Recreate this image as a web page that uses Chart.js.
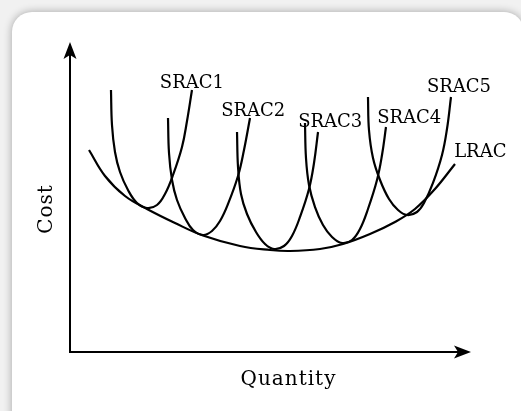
<!DOCTYPE html>
<html>
<head>
<meta charset="utf-8">
<script src="https://cdn.jsdelivr.net/npm/chart.js@4/dist/chart.umd.min.js"></script>
<style>
  html, body { margin: 0; padding: 0; }
  body { width: 521px; height: 411px; overflow: hidden; background: #f1f1f1; position: relative; }
  .card {
    position: absolute; left: 12px; top: 12px; width: 512px; height: 430px;
    background: #fff; border-radius: 20px;
    box-shadow: 0 0 9px rgba(0, 0, 0, 0.32);
  }
  #costChart { position: absolute; left: 0; top: 0; }
</style>
</head>
<body>
<div class="card"></div>
<canvas id="costChart" width="521" height="411"></canvas>
<script>
// Long run average cost and the short run curves it envelopes
const lracQty  = [4.74, 8.73, 13.72, 19.20, 26.18, 33.17, 42.39, 49.88, 54.86, 62.34, 68.08, 74.81, 81.05, 86.03, 91.02, 96.01];
const lracCost = [65.16, 56.77, 50.32, 46.13, 41.61, 37.58, 34.19, 32.90, 32.58, 33.23, 34.84, 38.06, 41.94, 46.13, 52.58, 60.65];

const srac1Qty  = [10.22, 10.47, 11.22, 12.47, 14.46, 16.71, 19.20, 21.70, 23.69, 25.69, 27.93, 29.18, 30.42];
const srac1Cost = [84.52, 73.23, 64.52, 58.06, 52.26, 48.06, 46.45, 47.42, 50.97, 57.10, 66.13, 74.52, 84.52];

const srac2Qty  = [24.44, 24.69, 25.44, 26.68, 28.68, 30.67, 33.17, 35.41, 37.41, 39.40, 41.90, 43.39, 44.89];
const srac2Cost = [75.48, 64.19, 55.48, 49.03, 43.23, 39.35, 37.74, 39.03, 42.26, 47.74, 56.77, 65.16, 75.48];

const srac3Qty  = [41.65, 41.90, 42.64, 44.14, 46.38, 48.63, 50.87, 53.37, 55.36, 57.36, 59.60, 60.85, 61.85];
const srac3Cost = [70.97, 59.68, 50.97, 44.52, 38.71, 34.84, 33.23, 34.19, 37.42, 43.55, 52.58, 60.97, 70.97];

const srac4Qty  = [58.60, 58.85, 59.60, 61.10, 63.09, 65.34, 67.83, 70.32, 72.32, 74.31, 76.56, 77.81, 78.80];
const srac4Cost = [73.87, 62.58, 53.87, 46.77, 40.97, 37.10, 35.16, 36.13, 39.68, 46.13, 55.48, 63.55, 72.58];

const srac5Qty  = [74.31, 74.56, 75.56, 77.31, 79.55, 81.80, 84.04, 86.53, 88.28, 90.52, 92.77, 94.01, 95.01];
const srac5Cost = [82.26, 71.61, 62.58, 55.48, 49.35, 45.81, 44.19, 45.16, 48.06, 54.52, 63.55, 71.94, 82.26];

// curve names and where each one is written (quantity, cost of the text baseline start)
const curveNames = ['SRAC1', 'SRAC2', 'SRAC3', 'SRAC4', 'SRAC5', 'LRAC'];
const nameQty    = [22.4, 37.7, 56.9, 76.6, 89.0, 95.8];
const nameCost   = [85.2, 76.1, 72.6, 73.9, 83.9, 62.9];

const xTitle = 'Quantity';
const yTitle = 'Cost';

function toPoints(xs, ys) {
    return xs.map((x, i) => ({ x: x, y: ys[i] }));
}

function curve(label, xs, ys) {
    return {
        label: label,
        data: toPoints(xs, ys),
        borderColor: '#000',
        borderWidth: 2.2,
        pointRadius: 0,
        fill: false,
        tension: 0.4,
        clip: false
    };
}

// axes with arrow heads, axis titles and curve names
const sketchPlugin = {
    id: 'sketch',
    afterDatasetsDraw(chart) {
        const ctx = chart.ctx;
        const area = chart.chartArea;
        const xs = chart.scales.x;
        const ys = chart.scales.y;
        ctx.save();
        ctx.strokeStyle = '#000';
        ctx.fillStyle = '#000';
        ctx.lineWidth = 2;

        ctx.beginPath();
        ctx.moveTo(area.left, area.top + 10);
        ctx.lineTo(area.left, area.bottom);
        ctx.lineTo(area.right - 10, area.bottom);
        ctx.stroke();

        // y arrow
        ctx.beginPath();
        ctx.moveTo(area.left, area.top);
        ctx.lineTo(area.left - 6.5, area.top + 17);
        ctx.lineTo(area.left, area.top + 13);
        ctx.lineTo(area.left + 6.5, area.top + 17);
        ctx.closePath();
        ctx.fill();

        // x arrow
        ctx.beginPath();
        ctx.moveTo(area.right, area.bottom);
        ctx.lineTo(area.right - 17, area.bottom - 6.5);
        ctx.lineTo(area.right - 13, area.bottom);
        ctx.lineTo(area.right - 17, area.bottom + 6.5);
        ctx.closePath();
        ctx.fill();

        ctx.font = '18px "DejaVu Serif"';
        ctx.textAlign = 'left';
        ctx.textBaseline = 'alphabetic';
        curveNames.forEach((name, i) => {
            ctx.fillText(name, xs.getPixelForValue(nameQty[i]), ys.getPixelForValue(nameCost[i]));
        });

        ctx.letterSpacing = '1px';
        ctx.font = '20px "DejaVu Serif"';
        ctx.textAlign = 'center';
        ctx.fillText(xTitle, (area.left + area.right) / 2 + 18, area.bottom + 33);

        ctx.save();
        ctx.translate(area.left - 18, (area.top + area.bottom) / 2 + 12);
        ctx.rotate(-Math.PI / 2);
        ctx.fillText(yTitle, 0, 0);
        ctx.restore();

        ctx.restore();
    }
};

const ctx = document.getElementById('costChart').getContext('2d');

new Chart(ctx, {
    type: 'line',
    data: {
        datasets: [
            curve('LRAC', lracQty, lracCost),
            curve('SRAC1', srac1Qty, srac1Cost),
            curve('SRAC2', srac2Qty, srac2Cost),
            curve('SRAC3', srac3Qty, srac3Cost),
            curve('SRAC4', srac4Qty, srac4Cost),
            curve('SRAC5', srac5Qty, srac5Cost)
        ]
    },
    options: {
        responsive: false,
        animation: false,
        layout: {
            padding: { left: 70, right: 50, top: 42, bottom: 59 }
        },
        scales: {
            x: { type: 'linear', min: 0, max: 100, display: false },
            y: { type: 'linear', min: 0, max: 100, display: false }
        },
        plugins: {
            legend: { display: false },
            tooltip: { enabled: false }
        }
    },
    plugins: [sketchPlugin]
});
</script>
</body>
</html>
